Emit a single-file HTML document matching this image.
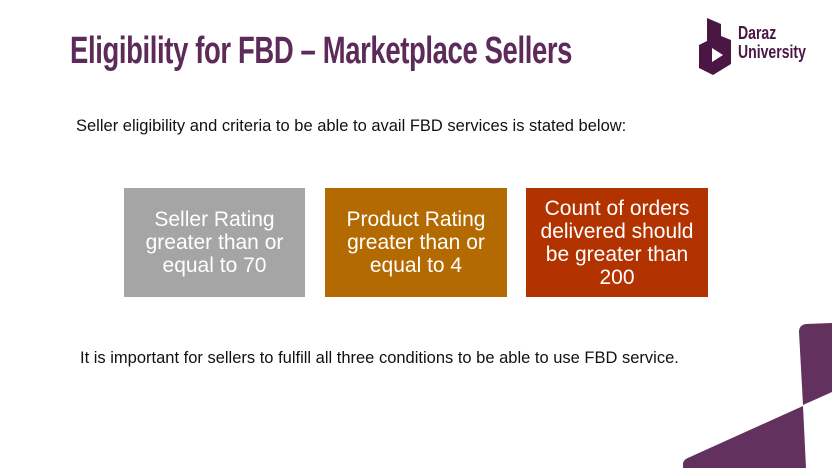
<!DOCTYPE html>
<html><head><meta charset="utf-8"><style>
body{margin:0;width:832px;height:468px;background:#fff;position:relative;overflow:hidden;font-family:"Liberation Sans",sans-serif}
.t{position:absolute;left:70px;top:30px;font-family:"Liberation Sans",sans-serif;font-weight:bold;font-size:38px;color:#5c2b59;white-space:nowrap;transform-origin:left top;transform:scaleX(0.722);letter-spacing:-0.5px}
.p{position:absolute;font-size:16.5px;color:#111;white-space:nowrap}
.b{position:absolute;top:188px;height:109px;color:#fff;font-size:21px;line-height:23px;display:flex;align-items:center;justify-content:center;text-align:center}
</style></head><body>
<div class="t">Eligibility for FBD – Marketplace Sellers</div>
<svg style="position:absolute;left:697px;top:18px" width="40" height="60">
<polygon points="10,0 24,6 24,18 34,22 34,46 16,57 2,50 2,27 10,23" fill="#4a1745"/>
<polygon points="15,30 26,37 15,44" fill="#fff"/>
</svg>
<div style="position:absolute;left:738px;top:24px;font-weight:bold;font-size:18px;line-height:19px;color:#4a1745;transform-origin:left top;transform:scaleX(0.78);white-space:nowrap">Daraz<br>University</div>
<div class="p" style="left:76px;top:117px">Seller eligibility and criteria to be able to avail FBD services is stated below:</div>
<div class="b" style="left:124px;width:181px;background:#a5a5a5">Seller Rating<br>greater than or<br>equal to 70</div>
<div class="b" style="left:325px;width:182px;background:#b36a00">Product Rating<br>greater than or<br>equal to 4</div>
<div class="b" style="left:526px;width:182px;background:#b33300">Count of orders<br>delivered should<br>be greater than<br>200</div>
<div class="p" style="left:80px;top:349px">It is important for sellers to fulfill all three conditions to be able to use FBD service.</div>
<svg style="position:absolute;left:0;top:0" width="832" height="468">
<path d="M799,332 Q799,325 806,324 L832,323 L832,392 L803,405 Z" fill="#62315d"/>
<path d="M683,468 L683,463 Q684,459 690,457 L803,406 L806,468 Z" fill="#62315d"/>
</svg>
</body></html>
